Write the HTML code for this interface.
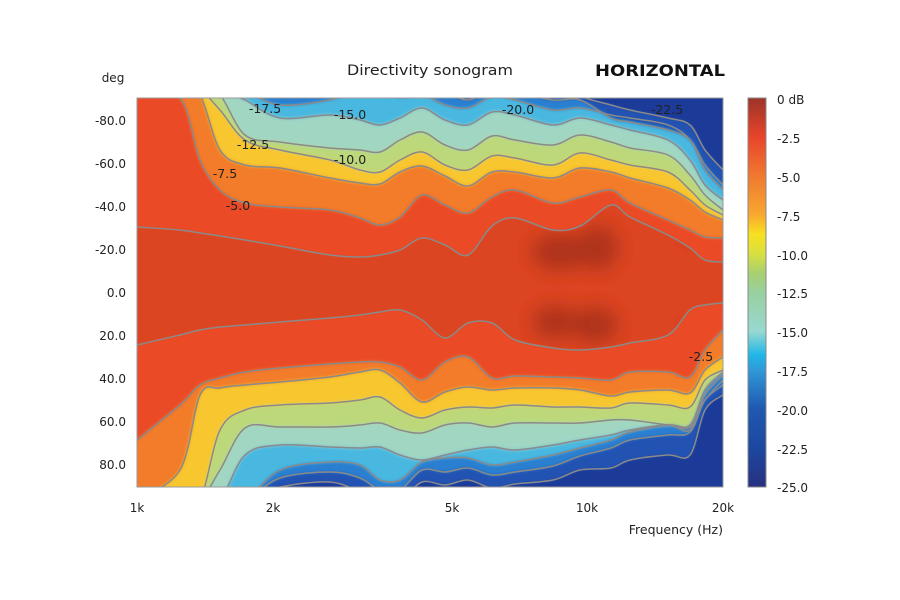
<!DOCTYPE html>
<html><head><meta charset="utf-8"><style>
html,body{margin:0;padding:0;background:#fff;width:900px;height:600px;overflow:hidden}
svg{display:block;font-family:"DejaVu Sans","Liberation Sans",sans-serif}
</style></head><body>
<svg id="s" width="900" height="600" viewBox="0 0 900 600">
<defs>
<clipPath id="cp"><rect x="137" y="98" width="586" height="389"/></clipPath>
<filter id="bl" x="-5%" y="-5%" width="110%" height="110%"><feGaussianBlur stdDeviation="1.6"/></filter>
<filter id="bl2"><feGaussianBlur stdDeviation="9"/></filter>
<linearGradient id="cb" x1="0" y1="0" x2="0" y2="1">
<stop offset="0" stop-color="#9c3428"/>
<stop offset="0.1" stop-color="#e8442a"/>
<stop offset="0.2" stop-color="#f07830"/>
<stop offset="0.3" stop-color="#f8a830"/>
<stop offset="0.35" stop-color="#f8e020"/>
<stop offset="0.4" stop-color="#d8e040"/>
<stop offset="0.45" stop-color="#a8d070"/>
<stop offset="0.5" stop-color="#98d0a0"/>
<stop offset="0.6" stop-color="#98d8d0"/>
<stop offset="0.66" stop-color="#20b8e8"/>
<stop offset="0.7" stop-color="#3098d8"/>
<stop offset="0.8" stop-color="#2058b0"/>
<stop offset="0.9" stop-color="#1c48a0"/>
<stop offset="1" stop-color="#283080"/>
</linearGradient>
</defs>
<g clip-path="url(#cp)">
<g id="fills" filter="url(#bl)"></g>
<g id="lines"></g>
</g>
<rect x="137" y="98" width="586" height="389" fill="none" stroke="#999" stroke-width="1"/>
<rect x="748" y="98" width="18" height="389" fill="url(#cb)" stroke="#888" stroke-width="1"/>
<g font-size="12.5" fill="#222">
<text x="265" y="113" text-anchor="middle">-17.5</text>
<text x="350" y="119" text-anchor="middle">-15.0</text>
<text x="253" y="149" text-anchor="middle">-12.5</text>
<text x="350" y="164" text-anchor="middle">-10.0</text>
<text x="225" y="178" text-anchor="middle">-7.5</text>
<text x="238" y="210" text-anchor="middle">-5.0</text>
<text x="518" y="114" text-anchor="middle">-20.0</text>
<text x="667" y="114" text-anchor="middle">-22.5</text>
<text x="701" y="361" text-anchor="middle">-2.5</text>
</g>
<g font-size="12" fill="#222" text-anchor="end">
<text x="126" y="125">-80.0</text>
<text x="126" y="168">-60.0</text>
<text x="126" y="211">-40.0</text>
<text x="126" y="254">-20.0</text>
<text x="126" y="297">0.0</text>
<text x="126" y="340">20.0</text>
<text x="126" y="383">40.0</text>
<text x="126" y="426">60.0</text>
<text x="126" y="469">80.0</text>
</g>
<text x="113" y="82" font-size="12" fill="#222" text-anchor="middle">deg</text>
<g font-size="12" fill="#222" text-anchor="middle">
<text x="137" y="512">1k</text>
<text x="273" y="512">2k</text>
<text x="452" y="512">5k</text>
<text x="587" y="512">10k</text>
<text x="723" y="512">20k</text>
</g>
<text x="723" y="534" font-size="12.5" fill="#222" text-anchor="end">Frequency (Hz)</text>
<text x="347" y="75" font-size="14" fill="#222" textLength="166" lengthAdjust="spacingAndGlyphs">Directivity sonogram</text>
<text x="595" y="76" font-size="16" font-weight="bold" fill="#111" textLength="130" lengthAdjust="spacingAndGlyphs">HORIZONTAL</text>
<g font-size="12" fill="#222">
<text x="777" y="104">0 dB</text>
<text x="777" y="143">-2.5</text>
<text x="777" y="182">-5.0</text>
<text x="777" y="221">-7.5</text>
<text x="777" y="260">-10.0</text>
<text x="777" y="298">-12.5</text>
<text x="777" y="337">-15.0</text>
<text x="777" y="376">-17.5</text>
<text x="777" y="415">-20.0</text>
<text x="777" y="454">-22.5</text>
<text x="777" y="492">-25.0</text>
</g>
</svg>
<script>
var X=[137,180,200,220,245,280,330,360,380,400,422,445,468,492,515,553,580,611,630,668,690,705,723];
var T=[
[227,230,233,236,240,246,255,257,255,250,238,245,255,226,218,230,226,205,217,235,248,260,262],
[90,98,160,190,203,207,210,218,225,217,195,205,213,197,190,203,197,190,203,220,230,237,238],
[80,85,95,150,165,168,178,183,184,172,166,176,186,172,172,178,168,172,178,188,200,212,220],
[80,85,90,110,140,150,160,170,172,160,152,165,170,156,158,165,153,160,165,172,190,205,215],
[80,85,88,95,135,142,148,150,152,140,132,145,150,136,140,145,135,142,148,155,175,195,210],
[80,85,88,90,100,118,115,120,125,118,108,120,125,112,115,125,118,125,130,140,160,185,200],
[80,85,88,90,92,105,100,90,92,98,95,105,108,97,100,110,108,115,118,125,140,170,190],
[80,80,80,80,80,80,80,80,80,85,88,92,100,90,92,100,100,118,122,130,140,165,185],
[80,80,80,80,80,80,80,80,80,80,80,80,80,80,80,80,96,105,110,118,125,150,170]];
var B=[
[345,335,330,327,325,322,318,315,312,310,320,338,323,323,340,348,350,347,343,335,310,305,303],
[440,405,385,378,372,368,364,362,362,367,380,362,357,378,376,377,378,380,372,372,377,350,330],
[500,470,395,388,385,382,377,372,370,383,402,392,387,390,388,388,390,396,392,390,393,370,357],
[500,500,500,430,410,405,403,400,397,410,418,410,407,408,405,407,407,408,403,405,407,380,370],
[500,500,500,470,428,427,427,425,423,430,433,425,423,427,423,423,423,420,420,425,427,400,380],
[500,500,500,500,455,445,447,448,447,455,460,455,450,447,450,445,440,435,430,425,430,395,375],
[500,500,500,500,500,470,462,465,480,480,462,458,458,465,462,455,448,440,432,425,425,390,372],
[500,500,500,500,500,478,472,478,490,490,470,472,468,475,472,466,456,448,440,435,432,400,385],
[500,500,500,500,500,487,482,492,500,500,482,485,480,488,484,480,470,468,460,455,455,410,395]];
var C=["#ea4b25","#f27b2c","#f8c62e","#bcd87a","#a0d6c2","#4ab8e0","#2a7fd0","#2152b2","#1e3a98"];
function smooth(p){var d="";for(var i=0;i<p.length-1;i++){var p0=p[i-1]||p[i],p1=p[i],p2=p[i+1],p3=p[i+2]||p2;
var c1x=p1[0]+(p2[0]-p0[0])/6,c1y=p1[1]+(p2[1]-p0[1])/6,c2x=p2[0]-(p3[0]-p1[0])/6,c2y=p2[1]-(p3[1]-p1[1])/6;
d+=" C"+c1x.toFixed(1)+","+c1y.toFixed(1)+" "+c2x.toFixed(1)+","+c2y.toFixed(1)+" "+p2[0]+","+p2[1];}return d;}
function pts(Y){return X.map(function(x,i){return [x,Y[i]]});}
var f='<rect x="130" y="90" width="600" height="410" fill="#dc4521"/>';
f+='<g filter="url(#bl2)" fill="#9a2c1c" opacity="0.7"><ellipse cx="560" cy="252" rx="28" ry="18"/><ellipse cx="598" cy="248" rx="20" ry="22"/><ellipse cx="555" cy="322" rx="22" ry="16"/><ellipse cx="595" cy="325" rx="22" ry="18"/><ellipse cx="692" cy="225" rx="5" ry="18"/><ellipse cx="692" cy="340" rx="5" ry="18"/></g>';
var l="";
for(var k=0;k<T.length;k++){
var p=pts(T[k]),s="M"+p[0][0]+","+p[0][1]+smooth(p);
f+='<path d="M130,80 L130,'+p[0][1]+" L"+s.slice(1)+' L730,'+p[p.length-1][1]+' L730,80 Z" fill="'+C[k]+'"/>';
l+='<path d="'+s+'" fill="none" stroke="#8a8a8a" stroke-width="1.5"/>';
var q=pts(B[k]),t="M"+q[0][0]+","+q[0][1]+smooth(q);
f+='<path d="M130,510 L130,'+q[0][1]+" L"+t.slice(1)+' L730,'+q[q.length-1][1]+' L730,510 Z" fill="'+C[k]+'"/>';
l+='<path d="'+t+'" fill="none" stroke="#8a8a8a" stroke-width="1.5"/>';}
document.getElementById("fills").innerHTML=f;
document.getElementById("lines").innerHTML=l;
</script>
</body></html>
